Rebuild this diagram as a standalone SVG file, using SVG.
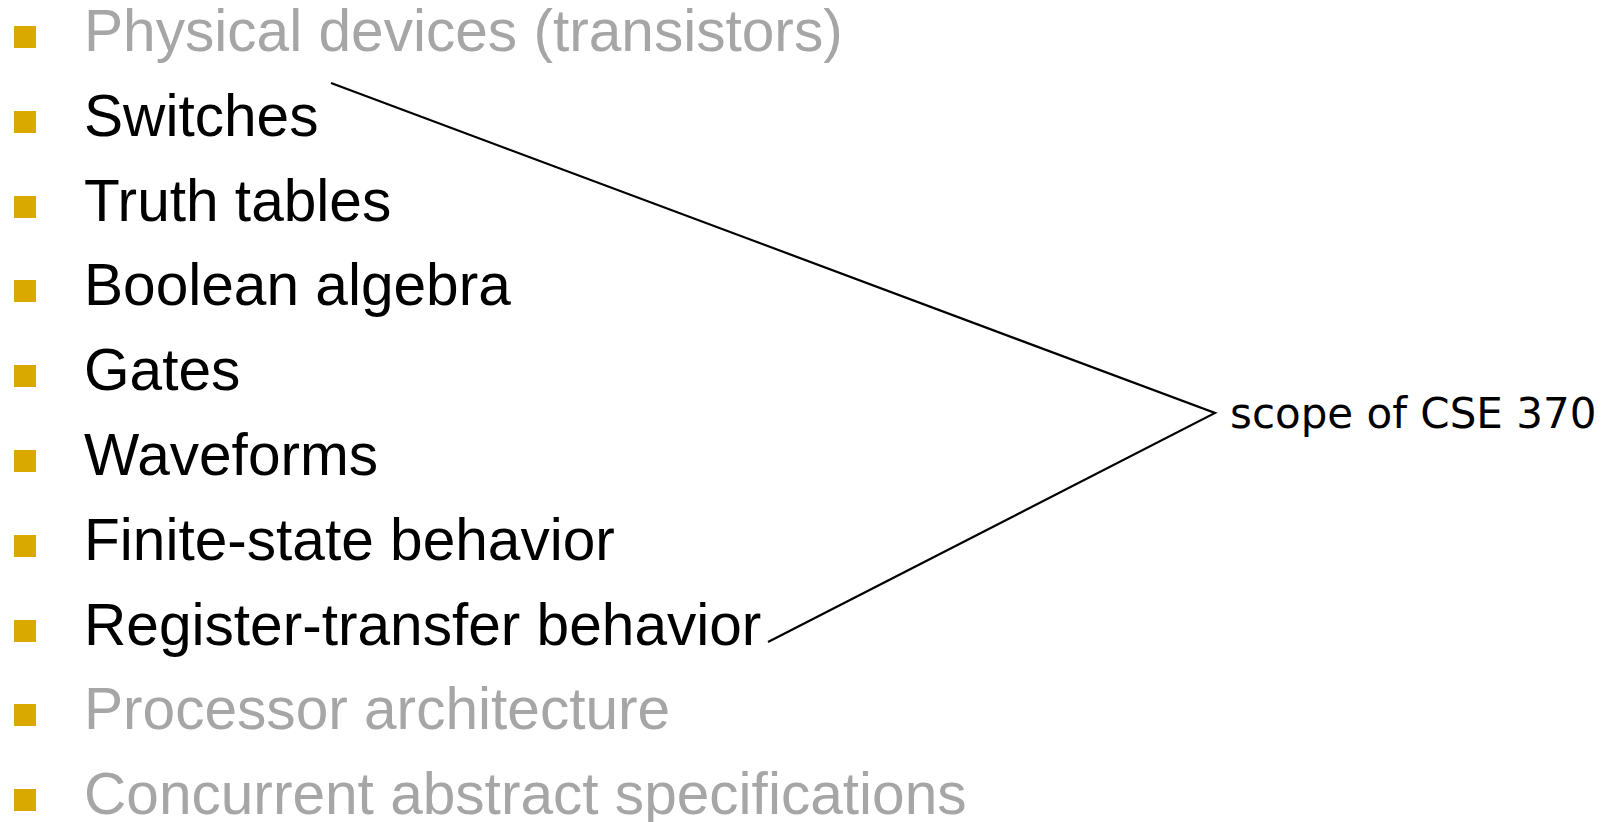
<svg xmlns="http://www.w3.org/2000/svg" width="1606" height="822" viewBox="0 0 1606 822">
  <style>
    .item { font-family: "Liberation Sans", Arial, sans-serif; font-size: 58.6px; }
    .on { fill: #000000; }
    .off { fill: #a6a6a6; }
    .bullet { fill: #d9a900; }
    .label { font-family: "DejaVu Sans", Verdana, sans-serif; font-size: 42px; fill: #000000; }
    .brace { fill: none; stroke: #000000; stroke-width: 2.2; stroke-linejoin: miter; }
  </style>
  <rect width="1606" height="822" fill="#ffffff"/>

  <!-- abstraction levels, top to bottom -->
  <g id="physical-devices"><rect class="bullet" x="14" y="26" width="22" height="22"/><text class="item off" x="84" y="51">Physical devices (transistors)</text></g>
  <g id="switches"><rect class="bullet" x="14" y="111" width="22" height="22"/><text class="item on" x="84" y="136">Switches</text></g>
  <g id="truth-tables"><rect class="bullet" x="14" y="196" width="22" height="22"/><text class="item on" x="84" y="221">Truth tables</text></g>
  <g id="boolean-algebra"><rect class="bullet" x="14" y="280" width="22" height="22"/><text class="item on" x="84" y="305">Boolean algebra</text></g>
  <g id="gates"><rect class="bullet" x="14" y="365" width="22" height="22"/><text class="item on" x="84" y="390">Gates</text></g>
  <g id="waveforms"><rect class="bullet" x="14" y="450" width="22" height="22"/><text class="item on" x="84" y="475">Waveforms</text></g>
  <g id="finite-state"><rect class="bullet" x="14" y="535" width="22" height="22"/><text class="item on" x="84" y="560">Finite-state behavior</text></g>
  <g id="register-transfer"><rect class="bullet" x="14" y="620" width="22" height="22"/><text class="item on" x="84" y="645">Register-transfer behavior</text></g>
  <g id="processor-architecture"><rect class="bullet" x="14" y="704" width="22" height="22"/><text class="item off" x="84" y="729">Processor architecture</text></g>
  <g id="concurrent-specs"><rect class="bullet" x="14" y="789" width="22" height="22"/><text class="item off" x="84" y="814">Concurrent abstract specifications</text></g>

  <!-- bracket grouping the course levels -->
  <g id="connectors">
    <polyline class="brace" points="331,83 1215,413 768,642"/>
  </g>

  <g id="scope-label">
    <text class="label" x="1230" y="428">scope of CSE 370</text>
  </g>
</svg>
